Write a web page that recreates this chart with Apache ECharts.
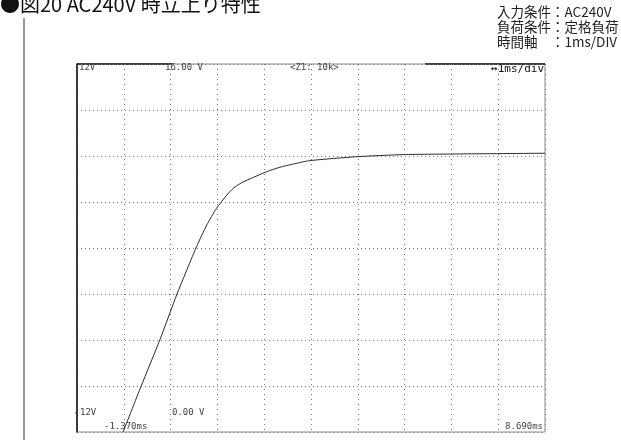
<!DOCTYPE html>
<html>
<head>
<meta charset="utf-8">
<script src="https://cdn.jsdelivr.net/npm/echarts@6/dist/echarts.min.js"></script>
<style>html,body{margin:0;padding:0;background:#fff}#c{width:621px;height:440px}</style>
</head>
<body>
<div id="c"></div>
<script>
// time in ms, voltage in V
const timeMs = [-0.38, 0.01, 0.41, 0.78, 1.20, 1.42, 1.63, 1.85, 1.99, 2.17, 2.42, 2.71, 2.99, 3.28, 3.64, 4.65, 5.64, 6.93, 8.69];
const voltV  = [0.00, 2.00, 4.00, 6.00, 8.06, 9.00, 9.73, 10.30, 10.60, 10.84, 11.07, 11.32, 11.51, 11.65, 11.80, 11.97, 12.06, 12.09, 12.12];
const xMin = -1.37, xMax = 8.69;
const yMin = 0, yMax = 16, yStep = 2;
const divCount = 10;
const titleText = '●図20 AC240V 時立上り特性';
const condLines = ['入力条件：AC240V', '負荷条件：定格負荷', '時間軸　：1ms/DIV'];
const scopeTop = ['12V', '16.00 V', '<Z1: 10k>', '↔1ms/div'];
const scopeBottom = ['12V', '0.00 V', '-1.370ms', '8.690ms'];

const G = {left: 77, top: 64, width: 468, height: 368};
const chart = echarts.init(document.getElementById('c'), null, {renderer: 'canvas'});
const mono = '"DejaVu Sans Mono", monospace';
const dotted = {color: '#7a7a7a', width: 1, type: [1, 3]};
const points = timeMs.map((t, i) => [t, voltV[i]]);
const condFont = '13.5px "Noto Sans CJK JP"';

chart.setOption({
  animation: false,
  grid: {left: G.left, top: G.top, width: G.width, height: G.height, show: true, borderColor: '#8a8a8a', borderWidth: 1, backgroundColor: 'transparent'},
  xAxis: [
    {type: 'value', min: xMin, max: xMax, show: false},
    {type: 'value', min: 0, max: divCount, interval: 1, axisLine: {show: false}, axisTick: {show: false}, axisLabel: {show: false}, splitLine: {show: true, lineStyle: {color: '#777', width: 1, type: [1, 4]}}}
  ],
  yAxis: [
    {type: 'value', min: yMin, max: yMax, interval: yStep, axisLine: {show: false}, axisTick: {show: false}, axisLabel: {show: false}, splitLine: {show: true, lineStyle: dotted}},
    {type: 'value', min: yMin, max: yMax, interval: yStep, position: 'right', axisLine: {show: true, lineStyle: {color: '#111', width: 1.5}}, axisTick: {show: false}, axisLabel: {show: false}, splitLine: {show: false}}
  ],
  series: [{
    type: 'line', xAxisIndex: 0, yAxisIndex: 0, data: points, showSymbol: false, smooth: 0.2,
    lineStyle: {color: '#2a2a2a', width: 1}, clip: true
  }],
  graphic: [
    {type: 'line', shape: {x1: 24, y1: 18, x2: 24, y2: 440}, style: {stroke: '#333', lineWidth: 1}},
    {type: 'text', x: 0, y: -6, style: {text: titleText, font: '20px "Noto Sans CJK JP"', fill: '#111', textVerticalAlign: 'top'}},
    {type: 'text', x: 497, y: 12, style: {text: condLines[0], font: condFont, fill: '#222', textVerticalAlign: 'middle'}},
    {type: 'text', x: 497, y: 27, style: {text: condLines[1], font: condFont, fill: '#222', textVerticalAlign: 'middle'}},
    {type: 'text', x: 497, y: 42, style: {text: condLines[2], font: condFont, fill: '#222', textVerticalAlign: 'middle'}},
    {type: 'line', shape: {x1: 77, y1: 64, x2: 172, y2: 64}, style: {stroke: '#111', lineWidth: 1.5}},
    {type: 'line', shape: {x1: 425, y1: 64, x2: 545, y2: 64}, style: {stroke: '#111', lineWidth: 1.5}},
    {type: 'text', x: 79, y: 68, style: {text: scopeTop[0], font: '9px ' + mono, fill: '#444', textVerticalAlign: 'middle'}},
    {type: 'text', x: 165, y: 68, style: {text: scopeTop[1], font: '9px ' + mono, fill: '#444', textVerticalAlign: 'middle'}},
    {type: 'text', x: 290, y: 68, style: {text: scopeTop[2], font: '9px ' + mono, fill: '#444', textVerticalAlign: 'middle'}},
    {type: 'text', x: 544, y: 69, style: {text: scopeTop[3], font: '11px ' + mono, fill: '#111', textAlign: 'right', textVerticalAlign: 'middle'}},
    {type: 'line', shape: {x1: 75, y1: 413, x2: 77, y2: 413}, style: {stroke: '#555', lineWidth: 1}},
    {type: 'text', x: 80, y: 413, style: {text: scopeBottom[0], font: '9px ' + mono, fill: '#444', textVerticalAlign: 'middle'}},
    {type: 'text', x: 172, y: 413, style: {text: scopeBottom[1], font: '9px ' + mono, fill: '#444', textVerticalAlign: 'middle'}},
    {type: 'text', x: 104, y: 427, style: {text: scopeBottom[2], font: '9px ' + mono, fill: '#444', textVerticalAlign: 'middle'}},
    {type: 'text', x: 543, y: 427, style: {text: scopeBottom[3], font: '9px ' + mono, fill: '#444', textAlign: 'right', textVerticalAlign: 'middle'}}
  ]
});
</script>
</body>
</html>
